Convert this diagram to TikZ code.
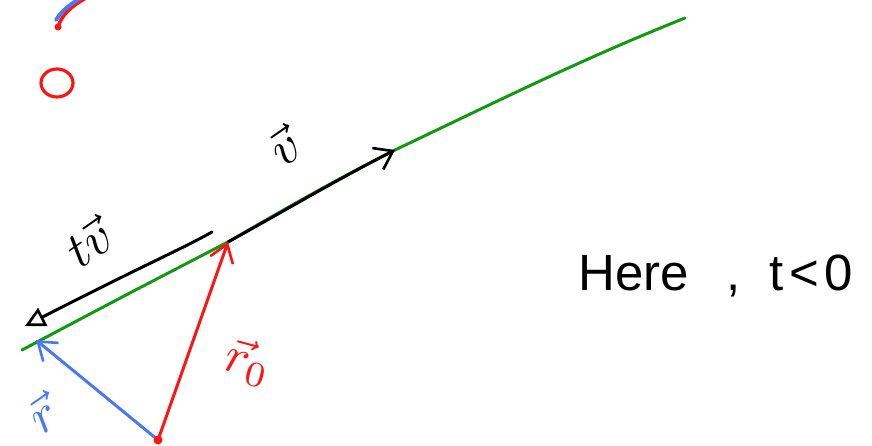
\documentclass[tikz,border=0pt]{standalone}
\usepackage{fontspec}
\setsansfont{Liberation Sans}
\usetikzlibrary{arrows.meta,calc}
\definecolor{penGreen}{HTML}{119A11}
\definecolor{penRed}{HTML}{FF1414}
\definecolor{penBlue}{HTML}{4A78F0}
\tikzset{
  pen/.style={line width=1.7pt, line cap=round, line join=round},
  trackline/.style={pen, draw=penGreen},
  velflow/.style={pen, draw=black, -{Straight Barb[length=3.4mm, width=4.8mm, line width=1.5pt]}},
  backflow/.style={pen, draw=black, -{Triangle[open, length=4mm, width=4mm, line width=1.5pt]}},
  posflow/.style={pen, draw=penRed, -{Straight Barb[length=3.4mm, width=4.8mm, line width=1.5pt]}},
  relflow/.style={pen, draw=penBlue, -{Straight Barb[length=3.4mm, width=4.8mm, line width=1.5pt]}},
  vlabel/.style={scale=2.9, transform shape, inner sep=0pt},
  notetext/.style={font=\sffamily\fontsize{29}{34}\selectfont, inner sep=0pt}
}
\begin{document}
\begin{tikzpicture}[x=0.02cm, y=-0.02cm]
  \useasboundingbox (0,0) rectangle (872,446);

  % points on the track
  \coordinate (start) at (22,350);
  \coordinate (pnow) at (228,242);
  \coordinate (pfwd) at (395,150);
  \coordinate (pend) at (685,18);
  \coordinate (tvstart) at (212,232);
  \coordinate (tvend) at (25,326);
  \coordinate (origin) at (158,440);
  \coordinate (pback) at (36,340);

  \draw[trackline] (start) .. controls (120,298) .. (pnow)
    .. controls (300,200) and (340,178) .. (pfwd)
    .. controls (500,100) and (580,60) .. (pend);

  \draw[velflow] (pnow) .. controls (300,202) and (340,178) .. (pfwd);
  \draw[backflow] (tvstart) .. controls (180,250) and (150,262) .. (tvend);
  \draw[posflow] (origin) -- (pnow);
  \draw[relflow] (origin) -- (pback);
  \fill[penRed] (origin) circle (4.5);

  % partial shape and circle at top left
  \draw[pen, draw=penRed, line width=2pt] (58,27) .. controls (62,14) and (72,6) .. (86,-2);
  \draw[pen, draw=penBlue, line width=2.2pt] (56,20) .. controls (62,10) and (72,3) .. (84,-4);
  \fill[penRed] (58,27) circle (3.5);
  \draw[pen, draw=penRed, line width=1.8pt] (57,83) ellipse (16 and 14);

  \node[vlabel, rotate=35] (lblv) at (284,146) {$\vec{v}$};
  \node[vlabel, rotate=35] (lbltv) at (88,242) {$t\vec{v}$};
  \node[vlabel, text=penRed, rotate=-15] (lblr0) at (248,362) {$\vec{r}_0$};
  \node[vlabel, text=penBlue, rotate=35] (lblr) at (42,414) {$\vec{r}$};

  \node[notetext, anchor=west] (note) at (578,276) {Here\hspace{0.75em},\hspace{0.55em}t\hspace{0.12em}<\hspace{0.1em}0};
\end{tikzpicture}
\end{document}
